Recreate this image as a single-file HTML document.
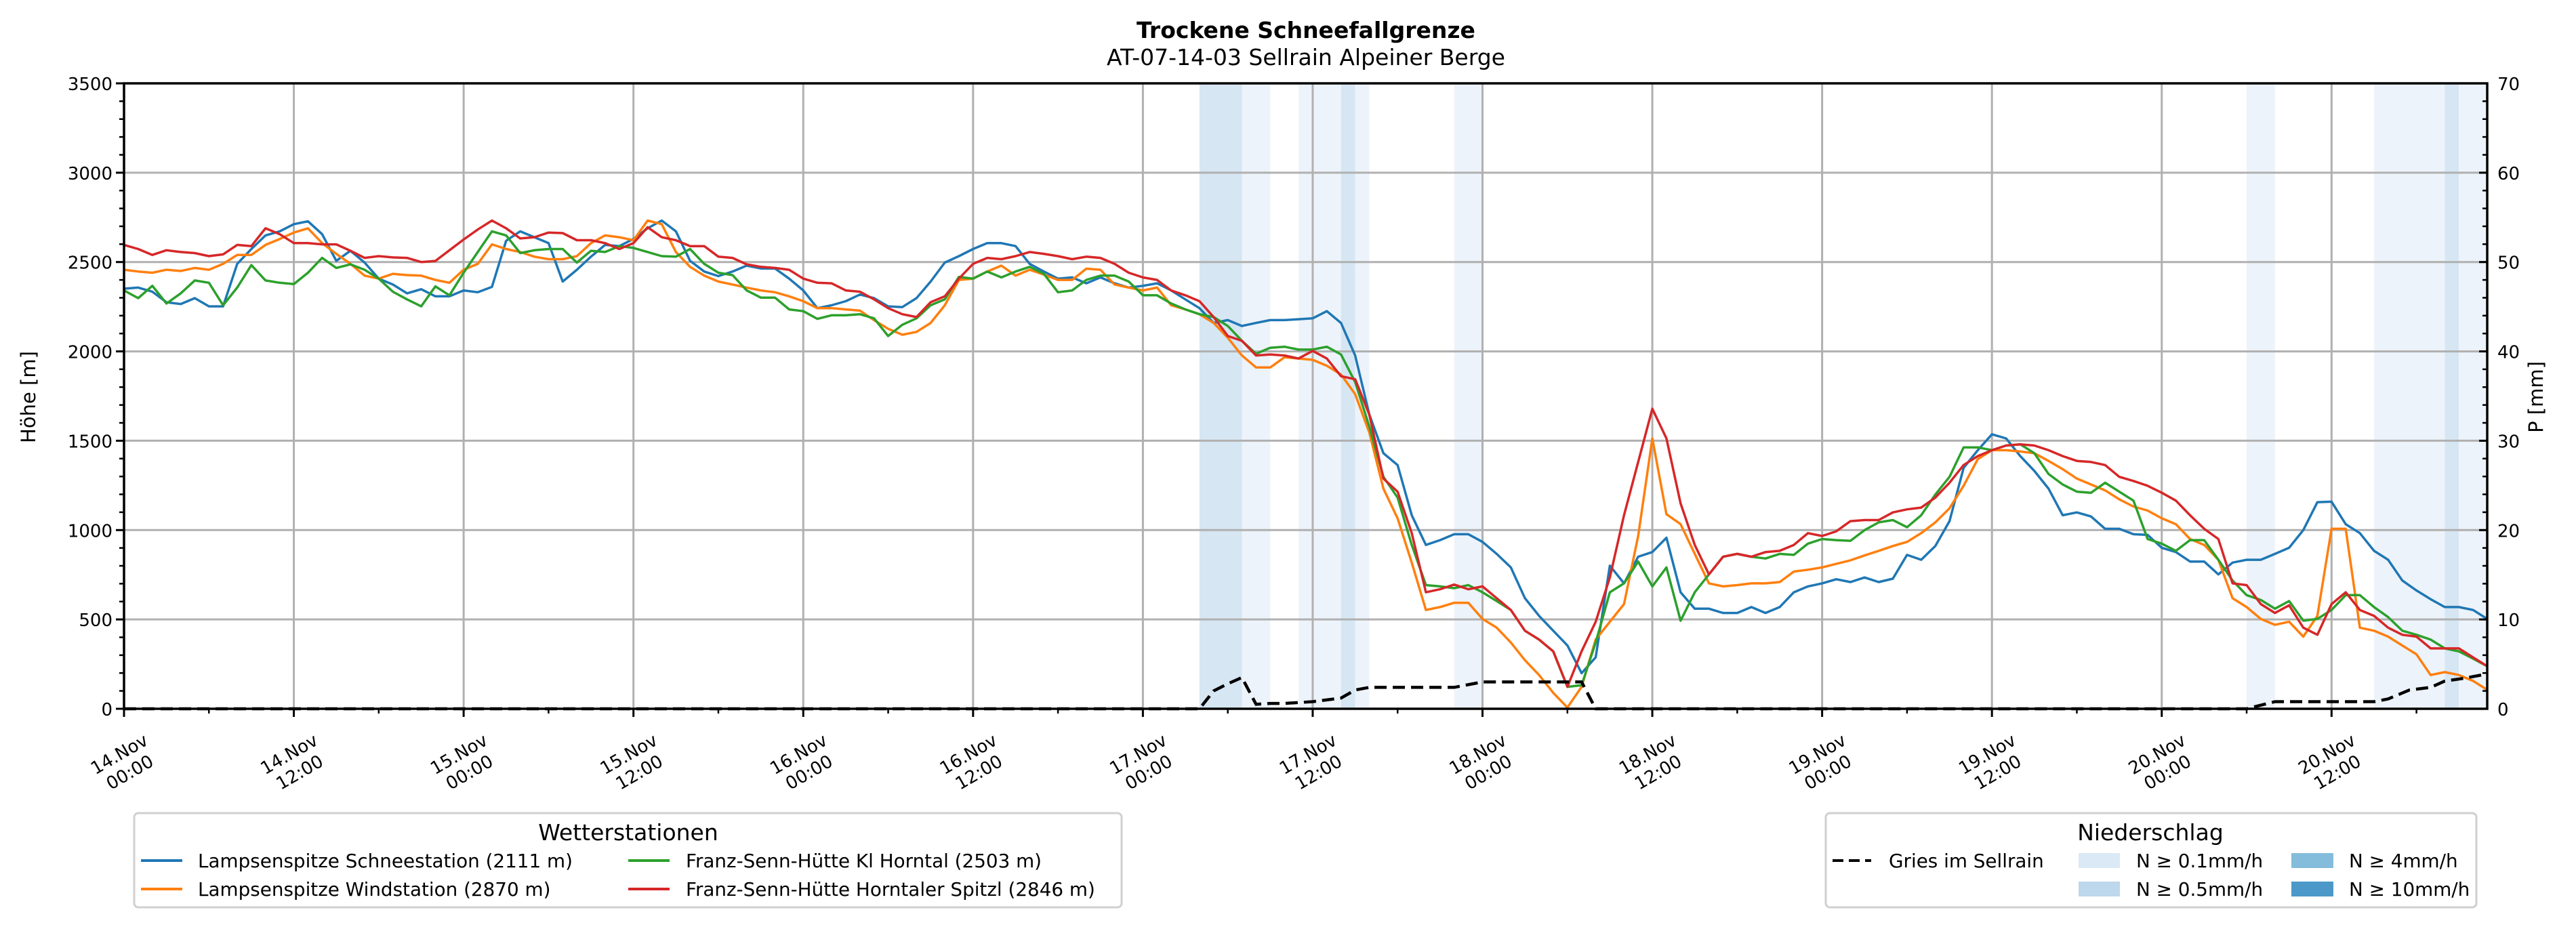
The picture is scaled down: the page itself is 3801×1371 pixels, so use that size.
<!DOCTYPE html>
<html><head><meta charset="utf-8">
<style>
html,body{margin:0;padding:0;background:#fff;}
svg{display:block;font-family:"DejaVu Sans","Liberation Sans",sans-serif;}
.tk{font-size:26px;fill:#000;}
.lg{font-size:27.8px;}
</style></head>
<body>
<svg id="chart" width="3801" height="1371" viewBox="0 0 3801 1371" xmlns="http://www.w3.org/2000/svg">
<text x="1927" y="56" text-anchor="middle" font-weight="bold" font-size="33">Trockene Schneefallgrenze</text>
<text x="1927" y="96" text-anchor="middle" font-size="33">AT-07-14-03 Sellrain Alpeiner Berge</text>
<g id="bands"></g>
<g id="grid"></g>
<g id="series"></g>
<g id="axes"></g>
<text transform="translate(52,586) rotate(-90)" text-anchor="middle" font-size="29">Höhe [m]</text>
<text transform="translate(3752,586) rotate(-90)" text-anchor="middle" font-size="29">P [mm]</text>

<g>
<rect x="198" y="1200" width="1457" height="139" rx="6" fill="#fff" stroke="#d0d0d0" stroke-width="3"/>
<text x="927" y="1240" text-anchor="middle" font-size="33">Wetterstationen</text>
<line x1="208" y1="1270" x2="269" y2="1270" stroke="#1f77b4" stroke-width="4"/>
<text class="lg" x="292" y="1280">Lampsenspitze Schneestation (2111 m)</text>
<line x1="208" y1="1312" x2="269" y2="1312" stroke="#ff7f0e" stroke-width="4"/>
<text class="lg" x="292" y="1322">Lampsenspitze Windstation (2870 m)</text>
<line x1="927" y1="1270" x2="988" y2="1270" stroke="#2ca02c" stroke-width="4"/>
<text class="lg" x="1012" y="1280">Franz-Senn-Hütte Kl Horntal (2503 m)</text>
<line x1="927" y1="1312" x2="988" y2="1312" stroke="#d62728" stroke-width="4"/>
<text class="lg" x="1012" y="1322">Franz-Senn-Hütte Horntaler Spitzl (2846 m)</text>
</g>

<g>
<rect x="2694" y="1200" width="960" height="139" rx="6" fill="#fff" stroke="#d0d0d0" stroke-width="3"/>
<text x="3173" y="1240" text-anchor="middle" font-size="33">Niederschlag</text>
<line x1="2704" y1="1270" x2="2761" y2="1270" stroke="#000" stroke-width="4" stroke-dasharray="16,8"/>
<text class="lg" x="2787" y="1280">Gries im Sellrain</text>
<rect x="3067" y="1259" width="61" height="22" fill="#dbe9f6"/>
<text class="lg" x="3152" y="1280">N ≥ 0.1mm/h</text>
<rect x="3067" y="1301" width="61" height="22" fill="#bdd7ec"/>
<text class="lg" x="3152" y="1322">N ≥ 0.5mm/h</text>
<rect x="3381" y="1259" width="62" height="22" fill="#84bcdb"/>
<text class="lg" x="3466" y="1280">N ≥ 4mm/h</text>
<rect x="3381" y="1301" width="62" height="22" fill="#4b98c9"/>
<text class="lg" x="3466" y="1322">N ≥ 10mm/h</text>
</g>
</svg>
<script>
const blueVals=[2351,2357,2334,2275,2265,2298,2252,2252,2490,2573,2649,2672,2712,2728,2656,2507,2563,2497,2407,2374,2325,2348,2308,2308,2341,2331,2361,2619,2672,2639,2606,2391,2457,2530,2596,2589,2629,2689,2732,2672,2507,2447,2421,2447,2480,2464,2464,2407,2341,2242,2258,2281,2318,2298,2252,2248,2298,2391,2497,2533,2573,2606,2606,2589,2490,2447,2407,2414,2381,2414,2381,2357,2367,2381,2341,2291,2242,2159,2175,2142,2159,2175,2175,2180,2185,2225,2159,1977,1646,1430,1364,1083,917,944,977,977,934,867,791,619,520,437,354,199,288,801,702,851,877,957,652,560,560,536,536,569,536,569,652,685,702,725,709,735,709,728,861,834,911,1050,1348,1447,1536,1513,1414,1331,1232,1083,1099,1076,1007,1007,977,973,901,877,824,824,752,818,834,834,867,901,1000,1156,1159,1033,983,884,834,718,662,613,569,569,553,503];
const orangeVals=[2457,2447,2440,2457,2450,2467,2457,2490,2540,2540,2596,2629,2665,2689,2606,2546,2490,2424,2407,2434,2427,2424,2400,2384,2457,2490,2599,2573,2556,2530,2516,2516,2533,2606,2649,2639,2622,2732,2712,2556,2473,2424,2391,2374,2357,2341,2331,2308,2281,2242,2242,2235,2228,2175,2126,2093,2109,2159,2258,2400,2407,2447,2480,2424,2457,2430,2400,2400,2463,2457,2374,2357,2341,2357,2258,2235,2208,2159,2076,1977,1910,1910,1967,1960,1953,1920,1871,1761,1546,1232,1066,818,553,569,593,593,503,454,371,272,189,89,7,123,387,487,586,967,1513,1089,1033,867,702,685,692,702,702,709,768,778,791,811,831,858,884,911,934,983,1043,1122,1248,1397,1447,1447,1440,1430,1387,1341,1288,1255,1222,1172,1132,1109,1066,1033,950,917,834,619,569,503,470,487,404,520,1007,1007,454,437,404,354,305,189,205,189,156,106];
const greenVals=[2341,2298,2367,2268,2324,2397,2384,2258,2357,2483,2397,2384,2377,2440,2523,2467,2487,2457,2407,2334,2291,2252,2364,2314,2440,2556,2672,2649,2550,2566,2573,2573,2497,2563,2556,2589,2579,2556,2533,2530,2573,2490,2440,2427,2341,2301,2301,2235,2225,2182,2202,2202,2208,2185,2086,2149,2185,2258,2291,2417,2407,2447,2414,2447,2473,2434,2331,2341,2400,2424,2424,2391,2314,2314,2268,2235,2208,2192,2142,2059,1987,2020,2026,2010,2010,2026,1983,1828,1579,1298,1182,917,692,685,675,692,652,603,553,437,387,321,123,132,371,652,702,824,685,791,493,652,752,851,867,851,841,867,861,924,950,944,940,1000,1043,1056,1016,1083,1199,1298,1463,1463,1447,1473,1480,1430,1314,1255,1215,1209,1265,1215,1165,950,924,884,944,944,834,718,636,609,560,603,493,503,553,636,636,569,513,437,414,387,338,321,281,238];
const redVals=[2596,2573,2540,2566,2556,2550,2533,2543,2596,2589,2689,2656,2606,2606,2599,2599,2563,2523,2533,2526,2523,2500,2506,2566,2626,2682,2732,2689,2632,2639,2665,2662,2622,2622,2606,2573,2606,2695,2639,2622,2589,2589,2530,2523,2487,2473,2467,2457,2407,2384,2381,2341,2334,2291,2242,2208,2192,2275,2308,2407,2490,2523,2516,2533,2556,2546,2533,2516,2530,2523,2490,2440,2414,2400,2341,2314,2281,2192,2086,2059,1977,1983,1977,1960,2003,1960,1861,1844,1646,1288,1215,983,652,669,695,669,685,619,553,437,387,321,123,321,487,735,1083,1381,1679,1513,1149,917,752,851,867,851,877,884,917,983,967,993,1050,1056,1056,1099,1116,1126,1182,1265,1364,1414,1447,1473,1480,1473,1447,1414,1387,1381,1364,1298,1275,1248,1209,1165,1083,1007,950,702,692,586,536,579,454,414,586,652,553,520,454,414,404,338,338,338,288,238];
const griesHours=[0,76,77,78,79,80,81,82,84,86,87,88,94,96,103,104,150,152,159,160,161.5,163,164,165.3,167];
const griesMm=[0,0,2.0,2.8,3.5,0.5,0.6,0.6,0.8,1.2,2.1,2.4,2.4,3.0,3.0,0,0,0.8,0.8,1.1,2.1,2.4,3.1,3.4,3.9];
const bandStart=[76,79,83,86,87,94,150,159,164,165];
const bandEnd=[79,81,86,87,88,96,152,164,165,167];
const bandLevel=[2,1,1,2,1,1,1,1,2,1];
const yTicks=[0,500,1000,1500,2000,2500,3000,3500];
const y2Ticks=[0,10,20,30,40,50,60,70];
const xTickDays=["14.Nov","14.Nov","15.Nov","15.Nov","16.Nov","16.Nov","17.Nov","17.Nov","18.Nov","18.Nov","19.Nov","19.Nov","20.Nov","20.Nov"];
const xTickTimes=["00:00","12:00","00:00","12:00","00:00","12:00","00:00","12:00","00:00","12:00","00:00","12:00","00:00","12:00"];

const NS="http://www.w3.org/2000/svg";
const L=183,R=3670,T=123,B=1046,HMAX=167;
function X(h){return L+h*(R-L)/HMAX;}
function Y(v){return B-v*(B-T)/3500;}
function Y2(p){return B-p*(B-T)/70;}
function mk(tag,attrs,parent){const e=document.createElementNS(NS,tag);for(const k in attrs)e.setAttribute(k,attrs[k]);parent.appendChild(e);return e;}
const bands=document.getElementById('bands'),grid=document.getElementById('grid'),ser=document.getElementById('series'),axes=document.getElementById('axes');

bandStart.forEach((s,i)=>{
 const r=mk('rect',{x:X(s),y:T,width:X(bandEnd[i])-X(s),height:B-T,fill:bandLevel[i]==2?'#d6e6f3':'#edf3fa'},bands);
 
 
});
yTicks.forEach(v=>{
 const g=mk('line',{x1:L,x2:R,y1:Y(v),y2:Y(v),stroke:'#b0b0b0','stroke-width':3},grid);
 
 
 mk('line',{x1:L-12,x2:L,y1:Y(v),y2:Y(v),stroke:'#000','stroke-width':3},axes);
 const t=mk('text',{x:L-17,y:Y(v)+10,'text-anchor':'end',class:'tk'},axes);t.textContent=v;
 
 
});
for(let v=0;v<=3500;v+=100){if(v%500)mk('line',{x1:L-7,x2:L,y1:Y(v),y2:Y(v),stroke:'#000','stroke-width':2.5},axes);}
y2Ticks.forEach(p=>{
 mk('line',{x1:R-12,x2:R,y1:Y2(p),y2:Y2(p),stroke:'#000','stroke-width':3},axes);
 const t=mk('text',{x:R+15,y:Y2(p)+10,class:'tk'},axes);t.textContent=p;
 
 
});
for(let p=0;p<=70;p+=2){if(p%10)mk('line',{x1:R-7,x2:R,y1:Y2(p),y2:Y2(p),stroke:'#000','stroke-width':2.5},axes);}
xTickDays.forEach((d,i)=>{
 const x=X(i*12);
 if(i>0){const g=mk('line',{x1:x,x2:x,y1:T,y2:B,stroke:'#b0b0b0','stroke-width':3},grid);
 
 }
 mk('line',{x1:x,x2:x,y1:B,y2:B+12,stroke:'#000','stroke-width':3},axes);
 const g2=mk('g',{transform:`translate(${x},1125) rotate(-30)`},axes);
 
 
 const t1=mk('text',{x:0,y:-5,'text-anchor':'middle',class:'tk'},g2);t1.textContent=d;
 const t2=mk('text',{x:0,y:26,'text-anchor':'middle',class:'tk'},g2);t2.textContent=xTickTimes[i];
});
for(let h=6;h<=HMAX;h+=12){mk('line',{x1:X(h),x2:X(h),y1:B,y2:B+7,stroke:'#000','stroke-width':2.5},axes);}
mk('rect',{x:L,y:T,width:R-L,height:B-T,fill:'none',stroke:'#000','stroke-width':3.5},axes);

function line(vals,color,name){
 const pts=vals.map((v,h)=>X(h).toFixed(1)+','+Y(v).toFixed(1)).join(' ');
 const p=mk('polyline',{points:pts,fill:'none',stroke:color,'stroke-width':3.5,'stroke-linejoin':'round'},ser);
 
 
}
line(blueVals,'#1f77b4','series-schneestation');
line(orangeVals,'#ff7f0e','series-windstation');
line(greenVals,'#2ca02c','series-kl-horntal');
line(redVals,'#d62728','series-horntaler-spitzl');
const gp=mk('polyline',{points:griesHours.map((h,i)=>X(h).toFixed(1)+','+Y2(griesMm[i]).toFixed(1)).join(' '),fill:'none',stroke:'#000','stroke-width':4.5,'stroke-dasharray':'18,9'},ser);


</script>
</body></html>
